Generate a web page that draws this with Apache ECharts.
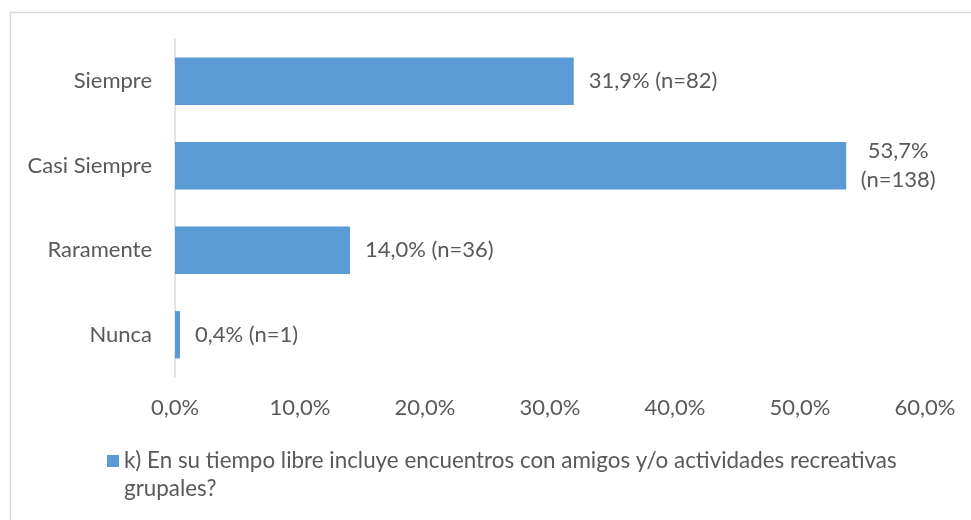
<!DOCTYPE html>
<html>
<head>
<meta charset="utf-8">
<script src="https://cdn.jsdelivr.net/npm/echarts@6/dist/echarts.min.js"></script>
<style>html,body{margin:0;padding:0;background:#fff;}#c{width:971px;height:520px;}</style>
</head>
<body>
<div id="c"></div>
<script>
const categories = ['Siempre', 'Casi Siempre', 'Raramente', 'Nunca'];
const values = [31.9, 53.7, 14.0, 0.4];
const counts = [82, 138, 36, 1];
const xTicks = [0, 10, 20, 30, 40, 50, 60];
const seriesName = 'k) En su tiempo libre incluye encuentros con amigos y/o actividades recreativas grupales?';
const legendLines = ['k) En su tiempo libre incluye encuentros con amigos y/o actividades recreativas', 'grupales?'];

const FONT = 'Lato';
const FS = 22;
const TXT = '#595959';
const fmt = v => v.toFixed(1).replace('.', ',') + '%';

const chart = echarts.init(document.getElementById('c'), null, {renderer: 'canvas'});
const data = values.map((v, i) => {
  const item = {value: v};
  if (i === 1) {
    item.label = {
      formatter: fmt(v) + '\n(n=' + counts[i] + ')',
      align: 'center', distance: 52, lineHeight: 29
    };
  }
  return item;
});
chart.setOption({
  animation: false,
  textStyle: {fontFamily: FONT},
  graphic: [{
    type: 'rect', left: 8, top: 10, shape: {width: 1100, height: 700},
    style: {fill: 'none', stroke: '#d9d9d9', lineWidth: 1.5}, silent: true, z: -1
  }],
  grid: {left: 175, right: 46, top: 39, bottom: 143, containLabel: false},
  xAxis: {
    type: 'value', min: xTicks[0], max: xTicks[xTicks.length - 1], interval: 10,
    axisLine: {show: false}, axisTick: {show: false}, splitLine: {show: false},
    axisLabel: {formatter: v => fmt(v), color: TXT, fontSize: FS, fontFamily: FONT, margin: 20}
  },
  yAxis: {
    type: 'category', data: categories, inverse: true,
    axisLine: {show: true, lineStyle: {color: '#d9d9d9', width: 1.5}},
    axisTick: {show: false},
    axisLabel: {color: TXT, fontSize: FS, fontFamily: FONT, margin: 23}
  },
  legend: {
    left: 102, top: 414, itemWidth: 12, itemHeight: 12, itemGap: 0,
    icon: 'rect',
    textStyle: {color: TXT, fontSize: 22.4, fontFamily: FONT, lineHeight: 28},
    formatter: () => '\n' + legendLines.join('\n')
  },
  series: [{
    name: seriesName, type: 'bar', data: data, barCategoryGap: '44%',
    itemStyle: {color: '#5B9BD5'},
    label: {
      show: true, position: 'right', distance: 15, color: TXT, fontSize: FS, fontFamily: FONT,
      formatter: p => fmt(p.value) + ' (n=' + counts[p.dataIndex] + ')'
    }
  }]
});
</script>
</body>
</html>
